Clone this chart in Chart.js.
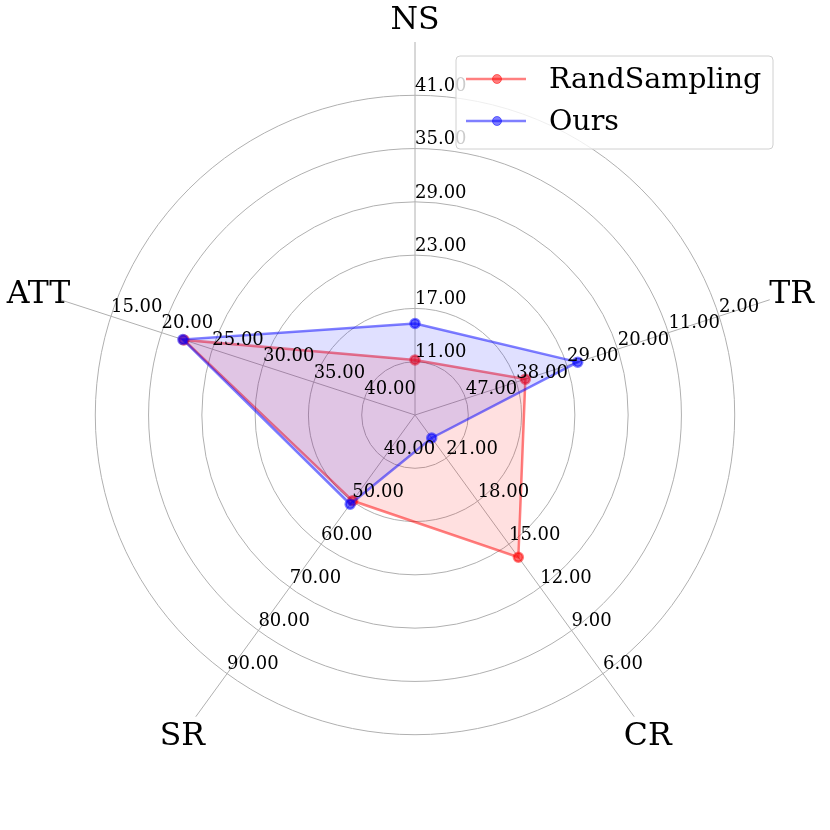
<!DOCTYPE html>
<html>
<head>
<meta charset="utf-8">
<script src="https://cdn.jsdelivr.net/npm/chart.js@4/dist/chart.umd.min.js"></script>
<style>
  body { margin: 0; background: #fff; }
  #wrap { width: 830px; height: 830px; }
</style>
</head>
<body>
<div id="wrap"><canvas id="myChart" width="830" height="830"></canvas></div>
<script>
// axes, clockwise from the top
const axes = ["NS", "TR", "CR", "SR", "ATT"];

// tick labels per axis, ring 1 -> ring 6
const nsTicks = [11, 17, 23, 29, 35, 41];
const trTicks = [47, 38, 29, 20, 11, 2];
const crTicks = [21, 18, 15, 12, 9, 6];
const srTicks = [40, 50, 60, 70, 80, 90];
const attTicks = [40, 35, 30, 25, 20, 15];
const axisTicks = [nsTicks, trTicks, crTicks, srTicks, attTicks];

// raw values (NS, TR, CR, SR, ATT)
const randSampling = [11.2, 36.4, 14.1, 49.9, 22.2];
const ours = [15.3, 27.1, 22.4, 50.7, 22.1];

// map a raw value onto the ring scale of its own axis
function toRing(v, i) {
    const t = axisTicks[i];
    const step = t[1] - t[0];
    return (v - t[0]) / step + 1;
}

const serif = "'DejaVu Serif', 'Liberation Serif', serif";

const overlay = {
    id: "overlay",
    afterDraw(chart) {
        const ctx = chart.ctx;
        const r = chart.scales.r;
        ctx.save();
        ctx.fillStyle = "#000";

        // per-axis tick labels
        ctx.font = "18px " + serif;
        ctx.textAlign = "left";
        ctx.textBaseline = "bottom";
        axisTicks.forEach((ticks, i) => {
            ticks.forEach((t, k) => {
                const p = r.getPointPositionForValue(i, k + 1);
                ctx.fillText(t.toFixed(2), p.x, p.y);
            });
        });

        // axis names
        ctx.font = "31.5px " + serif;
        ctx.textAlign = "center";
        ctx.textBaseline = "middle";
        axes.forEach((name, i) => {
            const p = r.getPointPositionForValue(i, 7.43);
            ctx.fillText(name, p.x, p.y + 2);
        });

        // legend box
        const bx = 456, by = 56, bw = 317, bh = 93;
        ctx.beginPath();
        ctx.roundRect(bx, by, bw, bh, 4);
        ctx.fillStyle = "rgba(255,255,255,0.8)";
        ctx.fill();
        ctx.strokeStyle = "#d0d0d0";
        ctx.lineWidth = 1;
        ctx.stroke();

        const items = [
            ["RandSampling", "rgba(255,0,0,0.5)", 79],
            ["Ours", "rgba(0,0,255,0.5)", 121]
        ];
        items.forEach(([label, color, y]) => {
            ctx.strokeStyle = color;
            ctx.lineWidth = 2.5;
            ctx.beginPath();
            ctx.moveTo(466, y);
            ctx.lineTo(526, y);
            ctx.stroke();
            ctx.beginPath();
            ctx.arc(497, y, 4.5, 0, Math.PI * 2);
            ctx.fillStyle = color;
            ctx.fill();
            ctx.lineWidth = 1;
            ctx.stroke();
            ctx.fillStyle = "#000";
            ctx.font = "28.5px " + serif;
            ctx.textAlign = "left";
            ctx.textBaseline = "alphabetic";
            ctx.fillText(label, 549, y + 9);
        });
        ctx.restore();
    }
};

new Chart(document.getElementById("myChart"), {
    type: "radar",
    data: {
        labels: axes,
        datasets: [
            {
                label: "RandSampling",
                data: randSampling.map(toRing),
                borderColor: "rgba(255,0,0,0.5)",
                backgroundColor: "rgba(255,0,0,0.12)",
                pointBackgroundColor: "rgba(255,0,0,0.6)",
                pointBorderColor: "rgba(255,0,0,0.5)",
                pointRadius: 4.5,
                borderWidth: 2.5,
                fill: true,
                order: 1
            },
            {
                label: "Ours",
                data: ours.map(toRing),
                borderColor: "rgba(0,0,255,0.5)",
                backgroundColor: "rgba(0,0,255,0.12)",
                pointBackgroundColor: "rgba(0,0,255,0.6)",
                pointBorderColor: "rgba(0,0,255,0.5)",
                pointRadius: 4.5,
                borderWidth: 2.5,
                fill: true,
                order: 0
            }
        ]
    },
    options: {
        responsive: false,
        animation: false,
        devicePixelRatio: 1,
        layout: { padding: 42 },
        plugins: {
            legend: { display: false },
            tooltip: { enabled: false }
        },
        scales: {
            r: {
                min: 0,
                max: 7,
                ticks: { display: false, stepSize: 1 },
                grid: {
                    circular: true,
                    color: c => c.tick && c.tick.value >= 7 ? "transparent" : "#b0b0b0",
                    lineWidth: 1
                },
                angleLines: { color: "#b0b0b0", lineWidth: 1 },
                pointLabels: { display: false }
            }
        }
    },
    plugins: [overlay]
});
</script>
</body>
</html>
